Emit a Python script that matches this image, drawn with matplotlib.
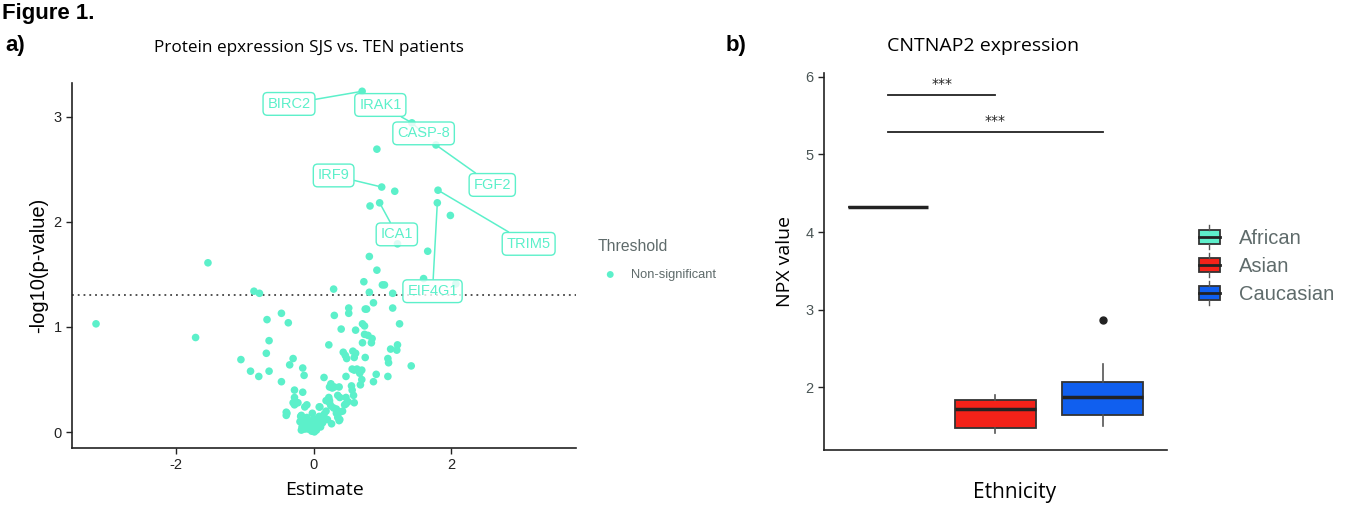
import matplotlib
matplotlib.use("Agg")
import matplotlib.pyplot as plt
from matplotlib.patches import Rectangle
from matplotlib.lines import Line2D
from matplotlib.legend_handler import HandlerBase

plt.rcParams["axes.unicode_minus"] = False

# ---- panel a data: volcano plot (estimate, -log10 p) ----
estimate = [0.705, 1.43, 0.92, 0.99, 1.18, 1.81, 0.82, 0.96, 1.80, 1.99,
            1.22, 1.66, 0.81, 0.92, 1.60, 0.73, 1.03, 1.00, 2.07, 0.29,
            -0.87, -0.79, 0.81, 1.15, 0.87, 0.51, 0.75, 0.77, 1.15, -1.54,
            -3.17, -1.72, 1.78,
            -0.68, -0.47, -0.37, -0.65, -0.69, -1.06, -0.30, -0.35, -0.92, -0.80,
            -0.65, -0.16, -0.14, -0.47, -0.28, -0.16, -0.28, -0.28, -0.23, -0.10,
            -0.39, -0.40, -0.19, -0.13,
            0.30, 0.51, 0.71, 0.74, 1.25, 0.40, 0.61, 0.74, 0.79, 0.85,
            0.71, 0.84, 0.22, 1.22, 1.12, 1.21, 0.43, 0.46, 0.48, 0.57,
            0.61, 0.59, 0.75, 1.08, 1.09, 1.42, 0.15, 0.56, 0.59, 0.63,
            0.70, 0.67, 0.47, 0.70, 0.68, 0.91, 0.87, 1.08,
            0.25, 0.30, 0.23, 0.27, 0.37, 0.55, 0.56, 0.35, 0.38, 0.22,
            0.23, 0.58, 0.47, 0.45, 0.50, 0.59, 0.09, 0.18, 0.23, 0.25,
            0.29, 0.33, 0.38, 0.42, 0.33, 0.35, 0.37, 0.26, 0.47,
            -0.25, -0.30, -0.40, -0.13, 0.08, -0.18, 0.38,
            -0.15, -0.10, -0.05, 0.00, 0.05, -0.17, -0.08, -0.03, -0.18, 0.02,
            0.07, 0.12, -0.12, -0.20, 0.15, 0.01, -0.06, 0.10, 0.04, -0.13,
            0.08, 0.18, -0.02, 0.20, 0.13]
logp = [3.24, 2.94, 2.69, 2.33, 2.29, 2.30, 2.15, 2.18, 2.18, 2.06,
        1.79, 1.72, 1.67, 1.54, 1.46, 1.43, 1.40, 1.40, 1.41, 1.36,
        1.34, 1.32, 1.33, 1.32, 1.23, 1.18, 1.17, 1.17, 1.18, 1.61,
        1.03, 0.90, 2.73,
        1.07, 1.13, 1.04, 0.87, 0.75, 0.69, 0.70, 0.64, 0.58, 0.53,
        0.58, 0.61, 0.54, 0.48, 0.40, 0.38, 0.33, 0.26, 0.28, 0.26,
        0.18, 0.16, 0.15, 0.08,
        1.11, 1.13, 1.03, 1.01, 1.03, 0.98, 0.97, 0.93, 0.92, 0.89,
        0.85, 0.85, 0.83, 0.83, 0.79, 0.78, 0.76, 0.73, 0.70, 0.77,
        0.75, 0.71, 0.71, 0.70, 0.66, 0.63, 0.52, 0.60, 0.59, 0.60,
        0.59, 0.56, 0.53, 0.50, 0.45, 0.55, 0.48, 0.53,
        0.46, 0.43, 0.43, 0.42, 0.43, 0.44, 0.40, 0.35, 0.33, 0.33,
        0.30, 0.35, 0.27, 0.26, 0.29, 0.28, 0.24, 0.30, 0.28, 0.25,
        0.23, 0.22, 0.19, 0.20, 0.18, 0.14, 0.11, 0.08, 0.33,
        0.28, 0.28, 0.19, 0.24, 0.24, 0.16, 0.12,
        0.12, 0.14, 0.10, 0.13, 0.11, 0.05, 0.03, 0.01, 0.02, 0.06,
        0.08, 0.14, 0.09, 0.10, 0.17, 0.003, 0.06, 0.05, 0.02, 0.03,
        0.15, 0.20, 0.18, 0.12, 0.09]

# labelled proteins: name, point, label position
gene_names = ["BIRC2", "IRAK1", "FGF2", "CASP-8", "IRF9", "ICA1", "TRIM5", "EIF4G1"]
gene_points = [(0.705, 3.24), (1.43, 2.94), (1.78, 2.73), (1.43, 2.94),
               (0.99, 2.33), (0.96, 2.18), (1.81, 2.30), (1.80, 2.18)]
gene_labels = [(-0.36, 3.12), (0.97, 3.11), (2.60, 2.35), (1.60, 2.84),
               (0.29, 2.44), (1.21, 1.88), (3.13, 1.79), (1.73, 1.34)]

# ---- panel b data: CNTNAP2 NPX by ethnicity ----
ethnicity = ["African", "Asian", "Caucasian"]
box_q1 = [4.32, 1.48, 1.64]
box_med = [4.32, 1.72, 1.875]
box_q3 = [4.32, 1.83, 2.07]
box_lo = [4.32, 1.415, 1.50]
box_hi = [4.32, 1.90, 2.30]
box_fliers = [[], [], [2.86]]
box_colors = ["#5EEFCB", "#F42219", "#105FEF"]
sig_pairs = [(1, 2, 5.77), (1, 3, 5.29)]

teal = "#5CF0CA"
dark = "#333333"

fig = plt.figure(figsize=(13.66, 5.05), dpi=100)

# ---------------- panel a ----------------
ax = fig.add_axes([0.0527, 0.1129, 0.369, 0.723])
ax.scatter(estimate, logp, s=30, color=teal, edgecolors="none", zorder=3,
           label="Non-significant")
ax.axhline(1.301, color="#444444", ls=(0, (1, 2.2)), lw=1.3, zorder=2)
for i, name in enumerate(gene_names):
    ax.annotate(name, xy=gene_points[i], xytext=gene_labels[i],
                ha="center", va="center", fontsize=10.5, color=teal,
                family="Liberation Sans", zorder=5 + i,
                bbox=dict(boxstyle="round,pad=0.3", fc=(1, 1, 1, 0.8),
                          ec=teal, lw=1),
                arrowprops=dict(arrowstyle="-", color=teal, lw=1.1,
                                shrinkA=0, shrinkB=0))
ax.set_xlim(-3.52, 3.82)
ax.set_ylim(-0.15, 3.32)
ax.set_xticks([-2, 0, 2])
ax.set_yticks([0, 1, 2, 3])
for s in ["top", "right"]:
    ax.spines[s].set_visible(False)
for s in ["left", "bottom"]:
    ax.spines[s].set_linewidth(1.2)
    ax.spines[s].set_color("#222222")
ax.tick_params(length=4, width=1, color="#222222", labelsize=10.5,
               labelcolor="#222222")
for lab in ax.get_xticklabels() + ax.get_yticklabels():
    lab.set_family("Liberation Sans")
ax.set_xlabel("Estimate", fontsize=14, family="Open Sans", labelpad=6)
ax.set_ylabel("-log10(p-value)", fontsize=14.5, family="Liberation Sans",
              labelpad=4)
ax.set_title("Protein epxression SJS vs. TEN patients", fontsize=12.3,
             family="Open Sans", pad=22, x=0.47)

leg = ax.legend(loc="upper left", bbox_to_anchor=(0.4335, 0.537),
                bbox_transform=fig.transFigure, frameon=False,
                title="Threshold", fontsize=9.3, title_fontsize=11.3,
                handletextpad=0.6, markerscale=0.9, borderaxespad=0,
                labelspacing=1.15)
leg._legend_box.align = "left"
leg.get_title().set_color("#5F6B6B")
leg.get_title().set_family("Liberation Sans")
for t in leg.get_texts():
    t.set_color("#5F6B6B")
    t.set_family("Liberation Sans")

# ---------------- panel b ----------------
bx = fig.add_axes([0.6032, 0.1089, 0.2511, 0.7465])
stats = []
for i in range(len(ethnicity)):
    stats.append(dict(med=box_med[i], q1=box_q1[i], q3=box_q3[i],
                      whislo=box_lo[i], whishi=box_hi[i],
                      fliers=box_fliers[i], label=ethnicity[i]))
bp = bx.bxp(stats, positions=[1, 2, 3], widths=0.75, patch_artist=True,
            showcaps=False,
            boxprops=dict(edgecolor=dark, lw=1.3),
            medianprops=dict(color="#222222", lw=2.5),
            whiskerprops=dict(color="#555555", lw=1.2),
            flierprops=dict(marker="o", markerfacecolor="#222222",
                            markeredgecolor="#222222", markersize=5))
for patch, c in zip(bp["boxes"], box_colors):
    patch.set_facecolor(c)

for a, b, y in sig_pairs:
    bx.plot([a, b], [y, y], color="#222222", lw=1.3)
    bx.text((a + b) / 2, y + 0.05, "***", ha="center", va="bottom",
            fontsize=10, color="#222222")

bx.set_xlim(0.4, 3.6)
bx.set_ylim(1.19, 6.05)
bx.set_xticks([])
bx.set_yticks([2, 3, 4, 5, 6])
for s in ["top", "right"]:
    bx.spines[s].set_visible(False)
for s in ["left", "bottom"]:
    bx.spines[s].set_linewidth(1.2)
    bx.spines[s].set_color("#222222")
bx.tick_params(length=4, width=1, color="#222222", labelsize=10.5,
               labelcolor="#4A5555")
for lab in bx.get_yticklabels():
    lab.set_family("Liberation Sans")
bx.set_xlabel("Ethnicity", fontsize=15, family="Open Sans", labelpad=23,
              x=0.557)
bx.set_ylabel("NPX value", fontsize=14, family="Open Sans", labelpad=8)
bx.set_title("CNTNAP2 expression", fontsize=14, family="Open Sans", pad=16,
             x=0.465)


class BoxHandler(HandlerBase):
    def create_artists(self, legend, orig_handle, xdescent, ydescent,
                       width, height, fontsize, trans):
        x0 = -xdescent
        y0 = -ydescent
        cx = x0 + width / 2
        r = Rectangle((x0, y0), width, height,
                      facecolor=orig_handle.get_facecolor(), edgecolor=dark,
                      lw=1.3, transform=trans)
        m = Line2D([x0, x0 + width], [y0 + height / 2] * 2, color="#222222",
                   lw=2, transform=trans)
        w1 = Line2D([cx, cx], [y0 + height, y0 + height * 1.35],
                    color="#555555", lw=1, transform=trans)
        w2 = Line2D([cx, cx], [y0, y0 - height * 0.35],
                    color="#555555", lw=1, transform=trans)
        return [r, m, w1, w2]


handles = [Rectangle((0, 0), 1, 1, facecolor=c) for c in box_colors]
leg2 = fig.legend(handles, ethnicity, loc="upper left",
                  bbox_to_anchor=(0.8715, 0.563), frameon=False,
                  fontsize=14.5, handlelength=1.05, handleheight=0.7,
                  handletextpad=0.98, labelspacing=0.46, borderaxespad=0,
                  handler_map={Rectangle: BoxHandler()})
for t in leg2.get_texts():
    t.set_color("#5F6B6B")
    t.set_family("Liberation Sans")

# ---------------- figure labels ----------------
fig.text(0.0015, 0.995, "Figure 1.", fontsize=16, fontweight="bold",
         family="Liberation Sans", va="top")
fig.text(0.004, 0.93, "a)", fontsize=16, fontweight="bold",
         family="Liberation Sans", va="top")
fig.text(0.531, 0.93, "b)", fontsize=16, fontweight="bold",
         family="Liberation Sans", va="top")

fig.savefig("out.png", dpi=100)
